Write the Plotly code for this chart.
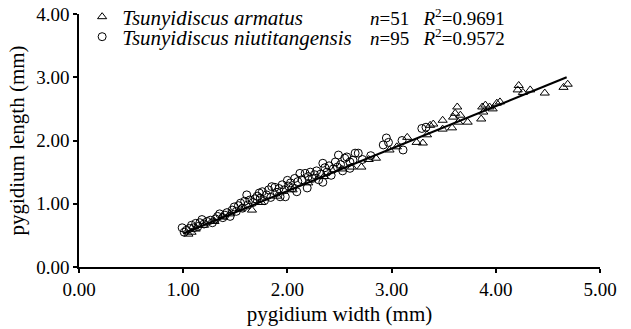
import plotly.graph_objects as go

# Tsunyidiscus armatus (triangles)
armatus_width = [1.05, 1.08, 1.12, 1.20, 1.30, 1.38, 1.45, 1.55, 1.66, 1.75,
                 1.90, 2.05, 2.20, 2.35, 2.52, 2.62, 2.71, 2.78, 2.85, 2.98,
                 3.05, 3.15, 3.24, 3.30, 3.37, 3.40, 3.49, 3.49, 3.58, 3.59,
                 3.61, 3.63, 3.64, 3.66, 3.73, 3.86, 3.87, 3.88, 3.90, 3.94,
                 3.97, 4.01, 4.04, 4.21, 4.22, 4.26, 4.33, 4.47, 4.65, 4.69, 3.34]
armatus_length = [0.52, 0.55, 0.60, 0.66, 0.72, 0.79, 0.84, 0.92, 0.90, 1.02,
                  1.12, 1.22, 1.33, 1.43, 1.55, 1.58, 1.58, 1.70, 1.72, 1.85,
                  1.90, 2.05, 1.97, 1.96, 2.24, 2.26, 2.32, 2.18, 2.20, 2.37,
                  2.43, 2.53, 2.29, 2.40, 2.29, 2.34, 2.53, 2.45, 2.56, 2.53,
                  2.50, 2.59, 2.61, 2.80, 2.87, 2.76, 2.80, 2.75, 2.84, 2.89, 2.09]

# Tsunyidiscus niutitangensis (circles)
niu_width = [0.99, 1.01, 1.03, 1.06, 1.08, 1.10, 1.12, 1.14, 1.16, 1.18,
             1.20, 1.23, 1.26, 1.28, 1.31, 1.33, 1.35, 1.38, 1.40, 1.42,
             1.45, 1.47, 1.49, 1.51, 1.53, 1.55, 1.57, 1.59, 1.61, 1.62,
             1.64, 1.67, 1.69, 1.71, 1.73, 1.74, 1.76, 1.78, 1.80, 1.82,
             1.84, 1.85, 1.88, 1.90, 1.92, 1.93, 1.95, 1.97, 1.98, 2.00,
             2.01, 2.03, 2.05, 2.07, 2.09, 2.10, 2.12, 2.14, 2.17, 2.19,
             2.20, 2.22, 2.24, 2.26, 2.28, 2.30, 2.32, 2.34, 2.34, 2.36,
             2.38, 2.40, 2.42, 2.44, 2.46, 2.48, 2.49, 2.51, 2.53, 2.55,
             2.57, 2.60, 2.60, 2.63, 2.65, 2.68, 2.72, 2.80, 2.92, 2.95,
             2.97, 3.10, 3.11, 3.29, 3.33]
niu_length = [0.62, 0.55, 0.58, 0.61, 0.66, 0.62, 0.69, 0.64, 0.70, 0.75,
              0.68, 0.72, 0.74, 0.70, 0.76, 0.80, 0.84, 0.78, 0.82, 0.86,
              0.80, 0.90, 0.95, 0.88, 0.97, 1.01, 0.93, 1.04, 1.14, 0.98,
              1.06, 1.02, 1.08, 1.12, 1.17, 1.09, 1.19, 1.05, 1.14, 1.22,
              1.10, 1.27, 1.26, 1.18, 1.24, 1.11, 1.30, 1.22, 1.11, 1.37,
              1.28, 1.33, 1.25, 1.40, 1.19, 1.35, 1.48, 1.38, 1.48, 1.25,
              1.43, 1.50, 1.40, 1.46, 1.52, 1.38, 1.47, 1.64, 1.34, 1.57,
              1.50, 1.60, 1.45, 1.55, 1.66, 1.58, 1.77, 1.62, 1.52, 1.72,
              1.74, 1.56, 1.66, 1.69, 1.80, 1.80, 1.70, 1.76, 1.93, 2.04,
              1.97, 2.00, 1.85, 2.19, 2.21]

# Regression line (as printed)
fit_slope = 0.671
fit_intercept = -0.141
fit_x_range = [1.0, 4.68]

stats_labels = ["<i>n</i>=51   <i>R</i><sup>2</sup>=0.9691",
                "<i>n</i>=95   <i>R</i><sup>2</sup>=0.9572"]
series_names = ["<i>Tsunyidiscus armatus</i>", "<i>Tsunyidiscus niutitangensis</i>"]
tick_vals_x = [0, 1, 2, 3, 4, 5]
tick_vals_y = [0, 1, 2, 3, 4]

FONT = "Liberation Serif"
ROW_Y = [0.988, 0.909]

fig = go.Figure()
fig.add_trace(go.Scatter(
    x=armatus_width, y=armatus_length, mode="markers", name=series_names[0],
    marker=dict(symbol="triangle-up-open", size=8, color="black", line=dict(width=1)),
    legend="legend", cliponaxis=False))
fig.add_trace(go.Scatter(
    x=niu_width, y=niu_length, mode="markers", name=series_names[1],
    marker=dict(symbol="circle-open", size=8, color="black", line=dict(width=1)),
    legend="legend2", cliponaxis=False))
fit_y = [fit_slope * v + fit_intercept for v in fit_x_range]
fig.add_trace(go.Scatter(
    x=fit_x_range, y=fit_y, mode="lines", showlegend=False,
    line=dict(color="black", width=2)))

legend_common = dict(font=dict(family=FONT, size=21, color="black"),
                     bgcolor="rgba(0,0,0,0)", xanchor="left", yanchor="middle",
                     itemsizing="trace")
fig.update_layout(
    width=631, height=329,
    margin=dict(l=79, r=31, t=14, b=62, autoexpand=False),
    paper_bgcolor="white", plot_bgcolor="white",
    font=dict(family=FONT, color="black"),
    legend=dict(x=0.006, y=ROW_Y[0], **legend_common),
    legend2=dict(x=0.006, y=ROW_Y[1], **legend_common),
    xaxis=dict(range=[0, 5], tickvals=tick_vals_x, tickformat=".2f",
               showgrid=False, zeroline=False, showline=True, linecolor="black",
               linewidth=1.5, ticks="outside", ticklen=4, tickwidth=1.5,
               tickcolor="black", tickfont=dict(family=FONT, size=19),
               title=dict(text="pygidium width (mm)", font=dict(family=FONT, size=21),
                          standoff=8)),
    yaxis=dict(range=[0, 4], tickvals=tick_vals_y, tickformat=".2f",
               showgrid=False, zeroline=False, showline=True, linecolor="black",
               linewidth=1.5, ticks="outside", ticklen=4, tickwidth=1.5,
               tickcolor="black", tickfont=dict(family=FONT, size=19),
               title=dict(text="pygidium length (mm)", font=dict(family=FONT, size=21),
                          standoff=6)),
)
for lab, yy in zip(stats_labels, ROW_Y):
    fig.add_annotation(x=0.555, y=yy, xref="paper", yref="paper", text=lab,
                       showarrow=False, xanchor="left", yanchor="middle",
                       font=dict(family=FONT, size=19, color="black"))

fig.write_html("out.html")
